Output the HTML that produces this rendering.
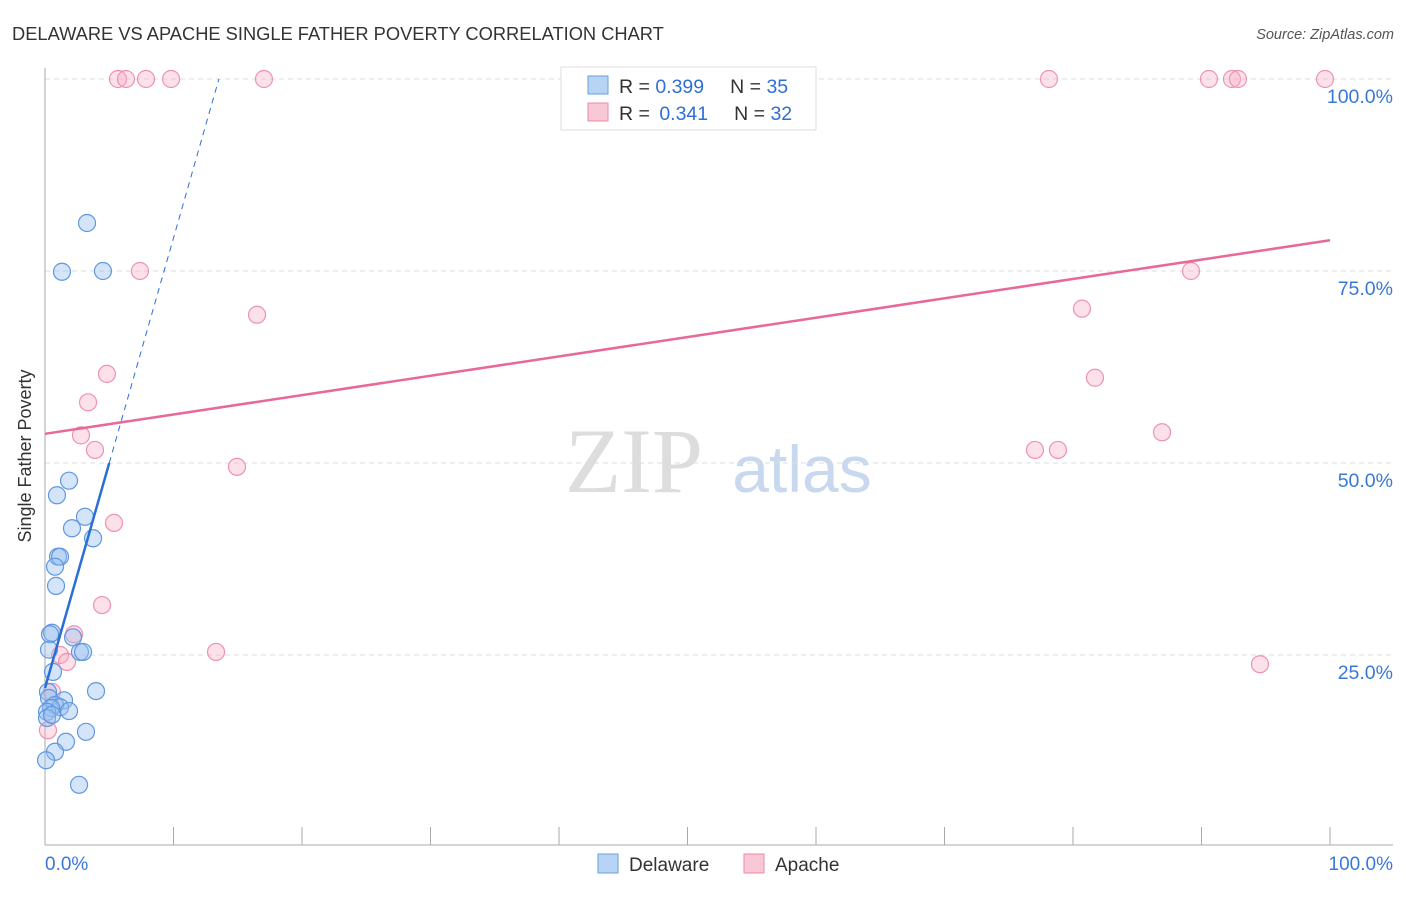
<!DOCTYPE html>
<html><head><meta charset="utf-8"><style>
body{margin:0;background:#fff;font-family:"Liberation Sans",sans-serif}
</style></head><body>
<svg width="1406" height="892" xmlns="http://www.w3.org/2000/svg" id="svg">
<text x="12" y="40" font-size="18.3" fill="#333">DELAWARE VS APACHE SINGLE FATHER POVERTY CORRELATION CHART</text>
<text x="1394" y="39" font-size="14.5" fill="#555" font-style="italic" text-anchor="end">Source: ZipAtlas.com</text>
<text x="31" y="456" font-size="18" fill="#333" text-anchor="middle" transform="rotate(-90 31 456)">Single Father Poverty</text>
<text x="634" y="492" font-size="92" fill="#ddd" font-family="Liberation Serif" text-anchor="middle">ZIP</text>
<text x="802" y="492" font-size="66" fill="#c8d8ee" text-anchor="middle">atlas</text>
<g id="grid"></g><g id="pts"></g><g id="lines"></g>
<g>
<rect x="561" y="67" width="255" height="63" fill="#fff" stroke="#ddd"/>
<rect x="588" y="76" width="20" height="18" fill="#b8d4f5" stroke="#6a9edf"/>
<rect x="588" y="103" width="20" height="18" fill="#f9c8d6" stroke="#e88aa6"/>
<text x="619" y="93" font-size="19.5" fill="#333">R = <tspan fill="#2f6fd6">0.399</tspan><tspan dx="26">N = </tspan><tspan fill="#2f6fd6">35</tspan></text>
<text x="619" y="120" font-size="19.5" fill="#333">R = <tspan fill="#2f6fd6" dx="4">0.341</tspan><tspan dx="26">N = </tspan><tspan fill="#2f6fd6">32</tspan></text>
</g>
<g>
<rect x="598" y="854" width="20" height="19" fill="#b8d4f5" stroke="#6a9edf"/>
<text x="629" y="871" font-size="19" fill="#333">Delaware</text>
<rect x="744" y="854" width="20" height="19" fill="#f9c8d6" stroke="#e88aa6"/>
<text x="775" y="871" font-size="19" fill="#333">Apache</text>
</g>
</svg>
<script>
const xTickLabels=["0.0%","100.0%"];
const yTickVals=[25,50,75,100];
const yTickLabels=["25.0%","50.0%","75.0%","100.0%"];
const delX=[3.27,1.32,4.51,1.87,0.93,3.11,2.10,3.74,1.01,1.17,0.78,0.86,0.54,0.39,2.18,2.72,2.96,0.31,0.62,3.97,0.23,0.31,1.48,0.78,1.17,0.47,1.87,0.16,0.16,3.19,1.63,0.78,2.65,0.08,0.54];
const delY=[81.25,74.9,75.0,47.7,45.8,43.0,41.5,40.2,37.8,37.8,36.5,34.0,27.9,27.7,27.3,25.4,25.4,25.7,22.8,20.3,20.2,19.4,19.1,18.5,18.2,18.1,17.7,17.6,16.8,15.0,13.7,12.4,8.1,11.3,17.2];
const apaX=[5.68,6.30,7.86,9.81,17.04,78.13,90.58,92.37,92.84,99.61,7.39,89.18,16.50,80.70,4.82,81.71,3.35,2.80,86.93,3.89,77.04,78.83,14.94,5.37,4.44,2.26,13.31,1.17,1.71,94.55,0.54,0.23];
const apaY=[100,100,100,100,100,100,100,100,100,100,75,75,69.3,70.1,61.6,61.1,57.9,53.6,54.0,51.7,51.7,51.7,49.5,42.2,31.5,27.7,25.4,25.0,24.1,23.8,20.2,15.2];
const delTrend=[20.7,5.86];
const apaTrend=[53.8,0.252];
const NS="http://www.w3.org/2000/svg";
const sx=v=>45+v*12.85, sy=v=>847-v*7.68;
function mk(t,a,p){const e=document.createElementNS(NS,t);for(const k in a)e.setAttribute(k,a[k]);p.appendChild(e);return e;}
const grid=document.getElementById('grid');
yTickVals.forEach((v,i)=>{
 const l=mk('line',{x1:45,x2:1393,y1:sy(v),y2:sy(v),stroke:'#ddd','stroke-dasharray':'5,4'},grid);
 
 
 const t=mk('text',{x:1393,y:sy(v)+24,'font-size':19.5,fill:'#3a78d8','text-anchor':'end'},grid);
 t.textContent=yTickLabels[i];
 
 
});
mk('line',{x1:45,x2:45,y1:68,y2:845,stroke:'#aaa'},grid);
mk('line',{x1:45,x2:1393,y1:845,y2:845,stroke:'#aaa'},grid);
for(let i=0;i<=10;i++){mk('line',{x1:sx(i*10),x2:sx(i*10),y1:827,y2:845,stroke:'#aaa'},grid);}
[[0,'start',45],[1,'end',1393]].forEach(([i,a,x])=>{const t=mk('text',{x:x,y:870,'font-size':19,fill:'#3a78d8','text-anchor':a},grid);t.textContent=xTickLabels[i];
 
 });
const pts=document.getElementById('pts');
apaX.forEach((x,i)=>{const c=mk('circle',{cx:sx(x),cy:sy(apaY[i]),r:8.5,fill:'rgba(246,170,195,0.35)',stroke:'#ee92b0','stroke-width':1.2},pts);
 
 });
delX.forEach((x,i)=>{const c=mk('circle',{cx:sx(x),cy:sy(delY[i]),r:8.5,fill:'rgba(150,190,240,0.4)',stroke:'#5f97e0','stroke-width':1.2},pts);
 
 });
const ln=document.getElementById('lines');
const dEnd=(100-delTrend[0])/delTrend[1];
let l1=mk('line',{x1:sx(0),y1:sy(delTrend[0]),x2:sx(5),y2:sy(delTrend[0]+5*delTrend[1]),stroke:'#2a6fd6','stroke-width':2.5},ln);


let l2=mk('line',{x1:sx(5),y1:sy(delTrend[0]+5*delTrend[1]),x2:sx(dEnd),y2:sy(100),stroke:'#2a6fd6','stroke-width':1,'stroke-dasharray':'6,5'},ln);


let l3=mk('line',{x1:sx(0),y1:sy(apaTrend[0]),x2:sx(100),y2:sy(apaTrend[0]+100*apaTrend[1]),stroke:'#e8689a','stroke-width':2.5},ln);


</script>
</body></html>
